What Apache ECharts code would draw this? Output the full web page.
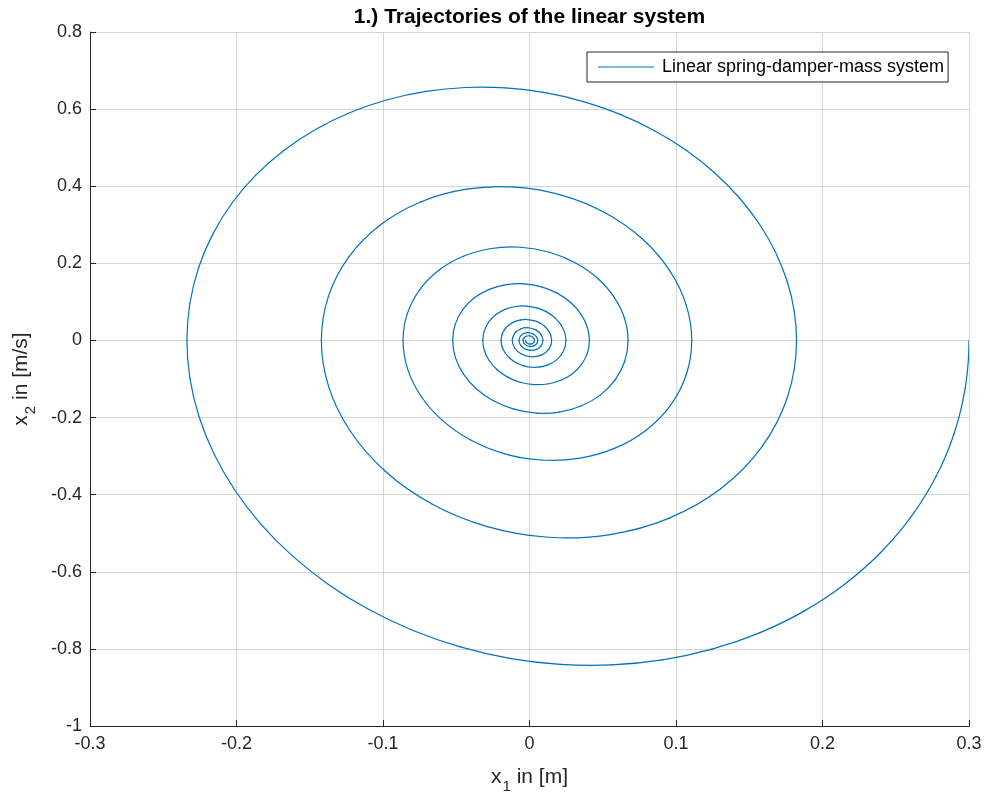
<!DOCTYPE html>
<html>
<head>
<meta charset="utf-8">
<script src="https://cdn.jsdelivr.net/npm/echarts@6/dist/echarts.min.js"></script>
<style>
  html, body { margin: 0; padding: 0; background: #fff; }
  #chart { width: 989px; height: 794px; }
</style>
</head>
<body>
<div id="chart"></div>
<script>
// Phase-plane trajectory (x1 = position in m, x2 = velocity in m/s) of the
// damped spring-mass system, stored half-turn by half-turn: each "bottom" half
// runs right-to-left below x2 = 0, each "top" half runs left-to-right above it.
const bottomTurn1 = [[0.30000,0],[0.29743,-0.12293],[0.28985,-0.24125],[0.27749,-0.35301],[0.26065,-0.45647],[0.23972,-0.55002],[0.21513,-0.63229],[0.18738,-0.70208],[0.15701,-0.75848],[0.12458,-0.80079],[0.09070,-0.82859],[0.05597,-0.84170],[0.02100,-0.84019],[-0.01361,-0.82440],[-0.04727,-0.79489],[-0.07944,-0.75243],[-0.10960,-0.69803],[-0.13726,-0.63285],[-0.16202,-0.55823],[-0.18351,-0.47562],[-0.20143,-0.38662],[-0.21555,-0.29285],[-0.22571,-0.19602],[-0.23181,-0.09783],[-0.23384,0]];
const topTurn1 = [[-0.23384,0],[-0.23184,0.09582],[-0.22593,0.18805],[-0.21629,0.27516],[-0.20317,0.35580],[-0.18685,0.42872],[-0.16769,0.49285],[-0.14606,0.54725],[-0.12238,0.59121],[-0.09711,0.62419],[-0.07070,0.64586],[-0.04363,0.65607],[-0.01637,0.65490],[0.01061,0.64259],[0.03685,0.61959],[0.06192,0.58649],[0.08543,0.54409],[0.10699,0.49328],[0.12629,0.43512],[0.14304,0.37073],[0.15701,0.30136],[0.16801,0.22827],[0.17593,0.15279],[0.18069,0.07626],[0.18227,0]];
const bottomTurn2 = [[0.18227,0],[0.18071,-0.07469],[0.17610,-0.14658],[0.16859,-0.21448],[0.15836,-0.27733],[0.13071,-0.38416],[0.09539,-0.46082],[0.05511,-0.50342],[0.01276,-0.51047],[-0.02872,-0.48295],[-0.06659,-0.42410],[-0.09844,-0.33916],[-0.12238,-0.23490],[-0.13713,-0.11909],[-0.14207,0]];
const topTurn2 = [[-0.14207,0],[-0.13727,0.11425],[-0.12344,0.21617],[-0.10188,0.29944],[-0.07436,0.35920],[-0.04295,0.39240],[-0.00995,0.39789],[0.02239,0.37644],[0.05190,0.33057],[0.07673,0.26436],[0.09539,0.18309],[0.10689,0.09283],[0.11074,0]];
const bottomTurn3 = [[0.11074,0],[0.10699,-0.08905],[0.09622,-0.16850],[0.07941,-0.23340],[0.05796,-0.27998],[0.03348,-0.30586],[0.00775,-0.31014],[-0.01745,-0.29342],[-0.04046,-0.25767],[-0.05981,-0.20606],[-0.07435,-0.14271],[-0.08332,-0.07236],[-0.08632,0]];
const topTurn3 = [[-0.08632,0],[-0.08340,0.06941],[-0.07500,0.13134],[-0.06190,0.18193],[-0.04518,0.21823],[-0.02610,0.23841],[-0.00604,0.24175],[0.01360,0.22871],[0.03154,0.20084],[0.04662,0.16062],[0.05796,0.11124],[0.06494,0.05640],[0.06728,0]];
const bottomTurn4 = [[0.06728,0],[0.06501,-0.05411],[0.05846,-0.10237],[0.04825,-0.14181],[0.03521,-0.17011],[0.02034,-0.18583],[0.00471,-0.18843],[-0.01060,-0.17827],[-0.02458,-0.15655],[-0.03634,-0.12520],[-0.04518,-0.08671],[-0.05062,-0.04396],[-0.05244,0]];
const topTurn4 = [[-0.05244,0],[-0.05067,0.04217],[-0.04557,0.07980],[-0.03761,0.11053],[-0.02745,0.13259],[-0.01586,0.14485],[-0.00367,0.14688],[0.00826,0.13896],[0.01916,0.12202],[0.02832,0.09759],[0.03521,0.06759],[0.03946,0.03427],[0.04088,0]];
const bottomTurn5 = [[0.04088,0],[0.03950,-0.03287],[0.03552,-0.06220],[0.02931,-0.08616],[0.02139,-0.10335],[0.01236,-0.11290],[0.00286,-0.11448],[-0.00644,-0.10831],[-0.01493,-0.09511],[-0.02208,-0.07606],[-0.02745,-0.05268],[-0.03076,-0.02671],[-0.03186,0]];
const topTurn5 = [[-0.03186,0],[-0.03079,0.02562],[-0.02768,0.04848],[-0.02285,0.06716],[-0.01668,0.08056],[-0.00963,0.08801],[-0.00223,0.08924],[0.00502,0.08443],[0.01164,0.07414],[0.01721,0.05929],[0.02139,0.04106],[0.02397,0.02082],[0.02484,0]];
const bottomTurn6 = [[0.02484,0],[0.02400,-0.01997],[0.02158,-0.03779],[0.01781,-0.05235],[0.01300,-0.06279],[0.00751,-0.06860],[0.00174,-0.06956],[-0.00391,-0.06581],[-0.00907,-0.05779],[-0.01341,-0.04621],[-0.01668,-0.03201],[-0.01869,-0.01623],[-0.01936,0]];
const topTurn6 = [[-0.01936,0],[-0.01870,0.01557],[-0.01682,0.02946],[-0.01388,0.04080],[-0.01013,0.04894],[-0.00585,0.05347],[-0.00136,0.05422],[0.00305,0.05129],[0.00707,0.04504],[0.01046,0.03602],[0.01300,0.02495],[0.01457,0.01265],[0.01509,0]];
const bottomTurn7 = [[0.01509,0],[0.01458,-0.01213],[0.01311,-0.02296],[0.00790,-0.03815],[0.00106,-0.04226],[-0.00551,-0.03511],[-0.01013,-0.01945],[-0.01176,0]];
const topTurn7 = [[-0.01176,0],[-0.01022,0.01790],[-0.00616,0.02974],[-0.00082,0.03294],[0.00430,0.02737],[0.00790,0.01516],[0.00917,0]];
const bottomTurn8 = [[0.00917,0],[0.00797,-0.01395],[0.00480,-0.02318],[0.00064,-0.02568],[-0.00335,-0.02133],[-0.00616,-0.01181],[-0.00715,0]];
const topTurn8 = [[-0.00715,0],[-0.00621,0.01087],[-0.00374,0.01807],[-0.00050,0.02001],[0.00261,0.01663],[0.00480,0.00921],[0.00557,0]];
const bottomTurn9 = [[0.00557,0],[0.00484,-0.00848],[0.00292,-0.01408],[0.00039,-0.01560],[-0.00203,-0.01296],[-0.00374,-0.00718],[-0.00434,0]];
const topTurn9 = [[-0.00434,0],[-0.00377,0.00661],[-0.00227,0.01098],[-0.00030,0.01216],[0.00159,0.01010],[0.00292,0.00560],[0.00338,0]];
const bottomTurn10 = [[0.00338,0],[0.00294,-0.00515],[0.00177,-0.00856],[0.00024,-0.00948],[-0.00124,-0.00787],[-0.00227,-0.00436],[-0.00264,0]];

const halfTurns = [
  bottomTurn1, topTurn1, bottomTurn2, topTurn2, bottomTurn3, topTurn3,
  bottomTurn4, topTurn4, bottomTurn5, topTurn5, bottomTurn6, topTurn6,
  bottomTurn7, topTurn7, bottomTurn8, topTurn8, bottomTurn9, topTurn9,
  bottomTurn10
];

// Join the half-turns into one continuous path (shared end points once).
const trajectory = [];
halfTurns.forEach((turn, i) => {
  turn.forEach((p, j) => { if (i === 0 || j > 0) trajectory.push(p); });
});

const xTicks = { min: -0.3, max: 0.3, step: 0.1 };
const yTicks = { min: -1, max: 0.8, step: 0.2 };

const seriesName = 'Linear spring-damper-mass system';
const titleText = '1.) Trajectories of the linear system';

const FONT = '"Liberation Sans", Arial, Helvetica, sans-serif';
const INK = '#262626';
const GRID = '#d6d6d6';
const LINE = '#0072BD';

const nameRich = {
  base: { fontSize: 21, color: INK, fontFamily: FONT, lineHeight: 23 },
  sub: { fontSize: 15, color: INK, fontFamily: FONT, lineHeight: 15, padding: [19, 0, 0, 1] }
};

// Unit tangent at point k in pixel space: the chord directions on both sides,
// each weighted by the length of the opposite chord (parabolic / Bessel tangent).
function tangentAt(api, k) {
  const n = trajectory.length;
  if (k === 0) return [0, 1]; // released at rest, so the path starts straight down
  const b = api.coord(trajectory[k]);
  const a = api.coord(trajectory[k - 1]);
  const d0 = Math.hypot(b[0] - a[0], b[1] - a[1]);
  if (k === n - 1) return d0 > 0 ? [(b[0] - a[0]) / d0, (b[1] - a[1]) / d0] : [0, 0];
  const c = api.coord(trajectory[k + 1]);
  const d1 = Math.hypot(c[0] - b[0], c[1] - b[1]);
  if (d0 === 0 || d1 === 0) return [0, 0];
  const tx = ((b[0] - a[0]) / d0) * d1 + ((c[0] - b[0]) / d1) * d0;
  const ty = ((b[1] - a[1]) / d0) * d1 + ((c[1] - b[1]) / d1) * d0;
  const len = Math.hypot(tx, ty) || 1;
  return [tx / len, ty / len];
}

// Each data point draws the cubic segment to the next one.
function renderSegment(params, api) {
  const i = params.dataIndex;
  if (i >= trajectory.length - 1) return null;
  const p1 = api.coord(trajectory[i]);
  const p2 = api.coord(trajectory[i + 1]);
  const t1 = tangentAt(api, i);
  const t2 = tangentAt(api, i + 1);
  const k = Math.hypot(p2[0] - p1[0], p2[1] - p1[1]) / 3;
  return {
    type: 'bezierCurve',
    shape: {
      x1: p1[0], y1: p1[1],
      cpx1: p1[0] + t1[0] * k, cpy1: p1[1] + t1[1] * k,
      cpx2: p2[0] - t2[0] * k, cpy2: p2[1] - t2[1] * k,
      x2: p2[0], y2: p2[1]
    },
    style: { stroke: LINE, lineWidth: 1.2, fill: null, lineCap: 'round' }
  };
}

const chart = echarts.init(document.getElementById('chart'), null, { renderer: 'canvas' });

chart.setOption({
  backgroundColor: '#ffffff',
  animation: false,
  grid: { left: 90, right: 20, top: 32, bottom: 68, containLabel: false, outerBoundsMode: 'none' },
  graphic: [{
    type: 'text',
    x: 529.5,
    y: 17,
    style: {
      text: titleText,
      align: 'center',
      verticalAlign: 'middle',
      fontFamily: FONT,
      fontSize: 21,
      fontWeight: 'bold',
      fill: '#000'
    }
  }],
  legend: {
    data: [seriesName],
    left: 587,
    top: 52,
    orient: 'horizontal',
    selectedMode: false,
    icon: 'rect',
    itemWidth: 56,
    itemHeight: 1.2,
    padding: [6, 4, 6, 11],
    backgroundColor: '#ffffff',
    borderColor: INK,
    borderWidth: 1,
    borderRadius: 0,
    textStyle: { fontFamily: FONT, fontSize: 18, color: '#000', padding: [0, 0, 0, 3] }
  },
  xAxis: {
    type: 'value',
    min: xTicks.min,
    max: xTicks.max,
    interval: xTicks.step,
    name: '{base|x}{sub|1}{base| in [m]}',
    nameLocation: 'middle',
    nameGap: 40,
    nameTextStyle: { rich: nameRich },
    axisLine: { show: true, onZero: false, lineStyle: { color: INK, width: 1 } },
    axisTick: { show: true, inside: true, length: 6, lineStyle: { color: INK } },
    axisLabel: { color: INK, fontFamily: FONT, fontSize: 18, margin: 9 },
    splitLine: { show: true, lineStyle: { color: GRID, width: 1 } }
  },
  yAxis: {
    type: 'value',
    min: yTicks.min,
    max: yTicks.max,
    interval: yTicks.step,
    name: '{base|x}{sub|2}{base| in [m/s]}',
    nameLocation: 'middle',
    nameGap: 57,
    nameRotate: 90,
    nameTextStyle: { rich: nameRich },
    axisLine: { show: true, onZero: false, lineStyle: { color: INK, width: 1 } },
    axisTick: { show: true, inside: true, length: 6, lineStyle: { color: INK } },
    axisLabel: { color: INK, fontFamily: FONT, fontSize: 18, margin: 8 },
    splitLine: { show: true, lineStyle: { color: GRID, width: 1 } }
  },
  series: [{
    name: seriesName,
    type: 'custom',
    data: trajectory,
    encode: { x: 0, y: 1 },
    renderItem: renderSegment,
    clip: true,
    itemStyle: { color: LINE }
  }]
});
</script>
</body>
</html>
